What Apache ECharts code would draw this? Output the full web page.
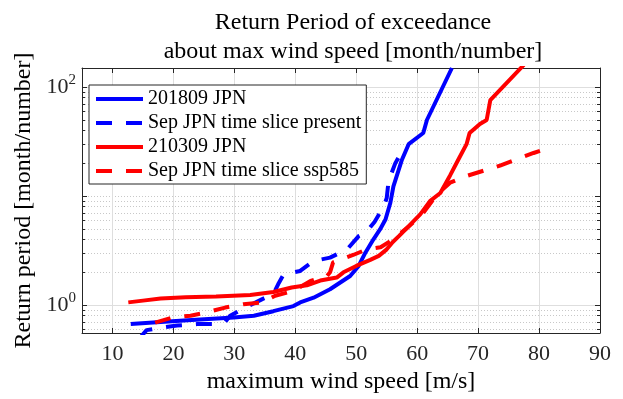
<!DOCTYPE html>
<html>
<head>
<meta charset="utf-8">
<script src="https://cdn.jsdelivr.net/npm/echarts@6/dist/echarts.min.js"></script>
<style>
  html, body { margin: 0; padding: 0; background: #fff; }
  #chart { width: 623px; height: 399px; }
</style>
</head>
<body>
<div id="chart"></div>
<script>
// wind speed [m/s] and return period [month/number]
const obs2018X = [13.0, 17.9, 23.0, 29.9, 33.2, 36.4, 39.7, 40.8, 43.0, 45.7, 49.0, 50.4, 51.5, 52.8, 53.9, 54.8, 55.6, 56.1, 56.9, 57.5, 58.6, 61.0, 61.6, 65.7];
const obs2018Y = [0.67, 0.70, 0.73, 0.77, 0.80, 0.88, 0.98, 1.06, 1.17, 1.40, 1.85, 2.29, 3.03, 4.0, 4.95, 6.1, 8.7, 12.3, 17.0, 21.6, 30, 38, 50, 150];

const presentX = [14.5, 15.6, 17.9, 20.6, 23.9, 26.6, 28.5, 29.3, 31.5, 34.5, 36.4, 37.3, 38.1, 40.8, 43.0, 45.7, 48.5, 50.4, 51.5, 53.0, 54.5, 55.0, 55.3, 56.4, 57.8];
const presentY = [0.50, 0.59, 0.62, 0.65, 0.67, 0.67, 0.70, 0.80, 0.93, 1.13, 1.26, 1.6, 1.92, 2.06, 2.54, 2.73, 3.25, 4.3, 4.6, 5.8, 8.0, 9.6, 13.7, 20.0, 27.7];

const ssp2103X = [12.6, 15.0, 17.9, 22.0, 27.0, 32.6, 36.4, 39.4, 41.9, 44.1, 46.8, 47.9, 50.0, 52.3, 53.7, 55.0, 56.0, 57.0, 58.3, 60.5, 62.1, 63.8, 65.4, 67.0, 68.1, 68.6, 70.3, 71.4, 72.0, 77.5];
const ssp2103Y = [1.06, 1.10, 1.15, 1.18, 1.20, 1.24, 1.32, 1.45, 1.52, 1.68, 1.79, 2.0, 2.29, 2.6, 2.83, 3.25, 3.8, 4.3, 5.1, 6.8, 9.0, 10.7, 15.5, 23, 30, 38, 46, 50, 76, 160];

const ssp585X = [17.0, 19.8, 22.8, 25.5, 28.5, 31.5, 34.5, 36.7, 39.7, 42.5, 45.2, 45.7, 46.2, 49.6, 51.7, 54.0, 56.0, 58.5, 61.0, 63.2, 65.4, 67.9, 73.6, 79.1, 82.1];
const ssp585Y = [0.69, 0.77, 0.80, 0.86, 0.95, 1.02, 1.06, 1.22, 1.35, 1.67, 1.85, 2.0, 2.47, 2.9, 3.25, 3.4, 4.0, 5.2, 7.0, 10.3, 13.3, 15.2, 19.1, 24.9, 28.4];

const seriesNames = ['201809 JPN', 'Sep JPN time slice present', '210309 JPN', 'Sep JPN time slice ssp585'];
const yTickLabels = { 1: '10{sup|0}', 100: '10{sup|2}' };

const pairs = (xs, ys) => xs.map((x, i) => [x, ys[i]]);

const FONT = 'Liberation Serif';
const AX = '#262626';
const GRID = '#dedede';
const MINOR = '#c8c8c8';
const NONE = 'rgba(0,0,0,0)';

const chart = echarts.init(document.getElementById('chart'), null, { renderer: 'canvas' });

function lineSeries(name, data, color, dashed) {
  return {
    name: name,
    type: 'line',
    data: data,
    symbol: 'none',
    showSymbol: false,
    clip: true,
    lineStyle: { color: color, width: 4, type: dashed ? [16, 14] : 'solid' },
    itemStyle: { color: color }
  };
}

chart.setOption({
  animation: false,
  backgroundColor: '#fff',
  title: {
    text: 'Return Period of exceedance\nabout max wind speed [month/number]',
    left: 348,
    top: 3,
    textAlign: 'center',
    textStyle: { fontFamily: FONT, fontSize: 24, fontWeight: 'normal', color: '#000', lineHeight: 29 }
  },
  grid: { left: 82, right: 23, top: 68, bottom: 65 },
  legend: {
    orient: 'vertical',
    left: 89,
    top: 85,
    padding: [4, 5, 3, 5],
    itemGap: 4,
    itemWidth: 47,
    itemHeight: 20,
    backgroundColor: '#fff',
    borderColor: AX,
    borderWidth: 1,
    data: seriesNames,
    lineStyle: { width: 4 },
    itemStyle: { color: NONE, borderColor: NONE, borderWidth: 0 },
    textStyle: { fontFamily: FONT, fontSize: 20, color: '#000', lineHeight: 20 }
  },
  xAxis: [{
    type: 'value',
    min: 5,
    max: 90,
    splitNumber: 9,
    name: 'maximum wind speed [m/s]',
    nameLocation: 'middle',
    nameGap: 37,
    nameTextStyle: { fontFamily: FONT, fontSize: 24, color: '#000' },
    axisLine: { show: true, lineStyle: { color: AX } },
    axisTick: { inside: true, length: 5, lineStyle: { color: AX } },
    axisLabel: {
      margin: 10,
      fontFamily: FONT, fontSize: 22, color: AX,
      formatter: v => (v % 10 === 0 ? String(v) : '')
    },
    splitLine: { show: true, lineStyle: { color: GRID } }
  }, {
    type: 'value',
    position: 'top',
    min: 5,
    max: 90,
    splitNumber: 9,
    axisLine: { show: true, lineStyle: { color: AX } },
    axisTick: { inside: true, length: 5, lineStyle: { color: AX } },
    axisLabel: { show: false },
    splitLine: { show: false }
  }],
  yAxis: [{
    type: 'log',
    logBase: 10,
    min: 0.555,
    max: 150,
    name: 'Return period [month/number]',
    nameLocation: 'middle',
    nameGap: 45,
    nameTextStyle: { fontFamily: FONT, fontSize: 24, color: '#000' },
    axisLine: { show: true, lineStyle: { color: AX } },
    axisTick: { inside: true, length: 5, lineStyle: { color: AX } },
    minorTick: { show: true, splitNumber: 9, length: 3, lineStyle: { color: AX } },
    axisLabel: {
      margin: 6,
      fontFamily: FONT, fontSize: 22, color: AX,
      formatter: v => {
        const k = Math.round(v * 1000) / 1000;
        return yTickLabels[k] || '';
      },
      rich: { sup: { fontFamily: FONT, fontSize: 15, color: AX, padding: [0, 0, 14, 0] } }
    },
    splitLine: { show: true, lineStyle: { color: [NONE, GRID, NONE, GRID, NONE] } },
    minorSplitLine: { show: true, lineStyle: { color: MINOR, type: [1, 2] } }
  }, {
    type: 'log',
    logBase: 10,
    min: 0.555,
    max: 150,
    position: 'right',
    axisLine: { show: true, lineStyle: { color: AX } },
    axisTick: { inside: true, length: 5, lineStyle: { color: AX } },
    minorTick: { show: true, splitNumber: 9, length: 3, lineStyle: { color: AX } },
    axisLabel: { show: false },
    splitLine: { show: true, lineStyle: { color: [NONE, NONE, MINOR, NONE, NONE], type: [1, 2] } }
  }],
  series: [
    lineSeries(seriesNames[0], pairs(obs2018X, obs2018Y), '#0000ff', false),
    lineSeries(seriesNames[1], pairs(presentX, presentY), '#0000ff', true),
    lineSeries(seriesNames[2], pairs(ssp2103X, ssp2103Y), '#ff0000', false),
    lineSeries(seriesNames[3], pairs(ssp585X, ssp585Y), '#ff0000', true)
  ]
});
</script>
</body>
</html>
